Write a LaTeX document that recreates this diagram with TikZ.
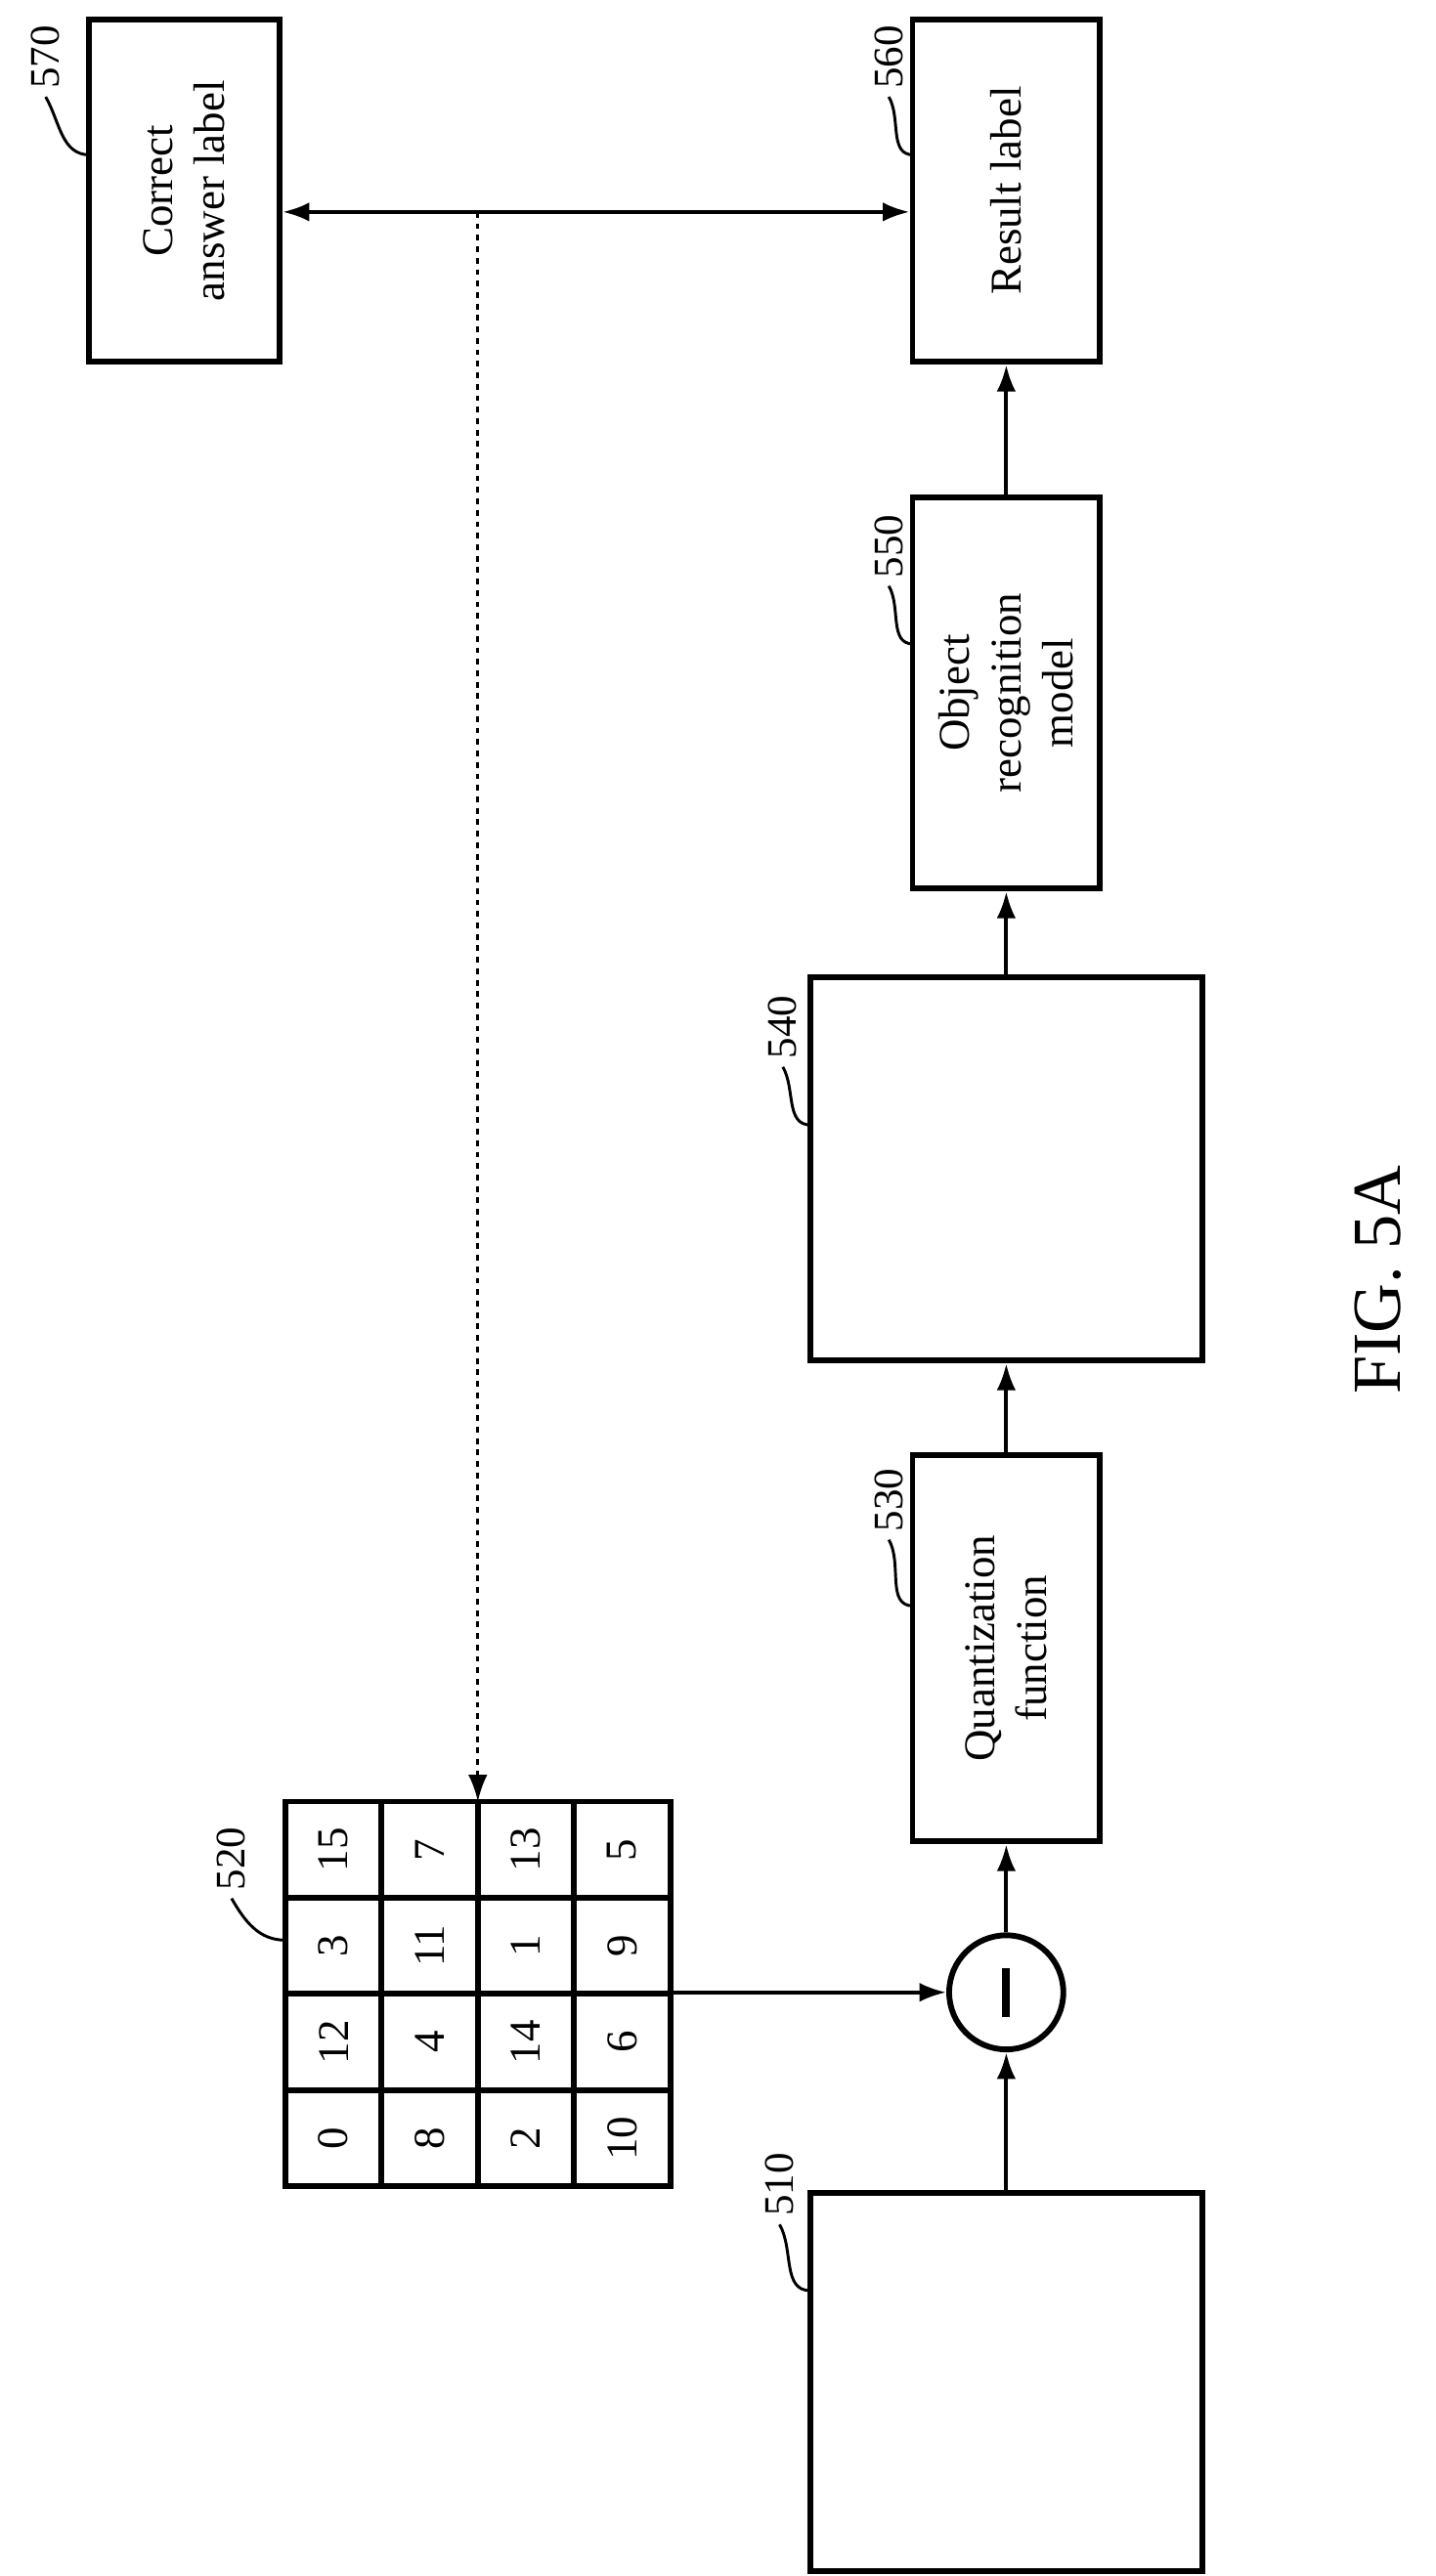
\documentclass[tikz,border=0pt]{standalone}
\usepackage{fontspec}
\setmainfont{Liberation Serif}
\usetikzlibrary{arrows.meta}
\begin{document}
\begin{tikzpicture}[x=0.03cm, y=-0.03cm, line width=2pt]
	\tikzset{boite/.style={draw=black, line width=3pt, rectangle, inner sep=0pt},
		texte/.style={rotate=90, align=center, font=\fontsize{23}{27}\selectfont},
		repere/.style={rotate=90, font=\fontsize{22}{26}\selectfont},
		fleche/.style={-{Latex[length=14pt, width=10pt]}},
		amorce/.style={line width=1.5pt}};
	\useasboundingbox (0,0) rectangle (880,1580);

	\node[boite, minimum width=117*0.03cm, minimum height=210*0.03cm] (b570) at (113,117) {};
	\node[texte] at (b570) {Correct\\answer label};
	\node[boite, minimum width=115*0.03cm, minimum height=210*0.03cm] (b560) at (617,117) {};
	\node[texte] at (b560) {Result label};
	\node[boite, minimum width=115*0.03cm, minimum height=240*0.03cm] (b550) at (617,425) {};
	\node[texte] at (b550) {Object\\recognition\\model};
	\node[boite, minimum width=240*0.03cm, minimum height=235*0.03cm] (b540) at (617,717) {};
	\node[boite, minimum width=115*0.03cm, minimum height=237*0.03cm] (b530) at (617,1011) {};
	\node[texte] at (b530) {Quantization\\function};
	\node[boite, minimum width=240*0.03cm, minimum height=232*0.03cm] (b510) at (617,1461) {};
	\node[circle, draw, line width=3pt, minimum size=70*0.03cm] (moins) at (617,1222) {};
	\draw[line width=4pt] (617,1207) -- (617,1237);

	% grille 520
	\foreach \col/\valeurs in {0/{15,3,12,0}, 1/{7,11,4,8}, 2/{13,1,14,2}, 3/{5,9,6,10}} {
		\foreach \v [count=\r from 0] in \valeurs {
			\node[draw, line width=3pt, minimum size=59*0.03cm, inner sep=0pt, texte] (g\col\r) at ({204.5+59*\col},{1134.5+59*\r}) {\v};
		}
	}
	\coordinate (haut) at (293,1105);
	\coordinate (croix) at (293,130);

	\draw[fleche] (b510.north) -- (moins.south);
	\draw[fleche] (moins.north) -- (b530.south);
	\draw[fleche] (b530.north) -- (b540.south);
	\draw[fleche] (b540.north) -- (b550.south);
	\draw[fleche] (b550.north) -- (b560.south);
	\draw[fleche] (412,1222) -- (moins.west);
	\draw[{Latex[length=14pt, width=10pt]}-{Latex[length=14pt, width=10pt]}] (b570.east |- croix) -- (b560.west |- croix);
	\draw[fleche, dashed, line width=1.5pt] (croix) -- (haut);

	% reperes
	\node[repere] (r570) at (28,35) {570};
	\node[repere] (r560) at (545,35) {560};
	\node[repere] (r550) at (545,335) {550};
	\node[repere] (r540) at (480,630) {540};
	\node[repere] (r530) at (545,920) {530};
	\node[repere] (r520) at (142,1140) {520};
	\node[repere] (r510) at (478,1340) {510};
	\draw[amorce] (r570.west) to[out=-60, in=180] (55,95);
	\draw[amorce] (r560.west) to[out=-60, in=180] (560,95);
	\draw[amorce] (r550.west) to[out=-60, in=180] (560,395);
	\draw[amorce] (r540.west) to[out=-60, in=180] (497,690);
	\draw[amorce] (r530.west) to[out=-60, in=180] (560,985);
	\draw[amorce] (r520.west) to[out=-60, in=180] (175,1190);
	\draw[amorce] (r510.west) to[out=-60, in=180] (497,1405);

	\node[rotate=90, font=\fontsize{36}{40}\selectfont] (titre) at (845,785) {FIG. 5A};
\end{tikzpicture}
\end{document}
